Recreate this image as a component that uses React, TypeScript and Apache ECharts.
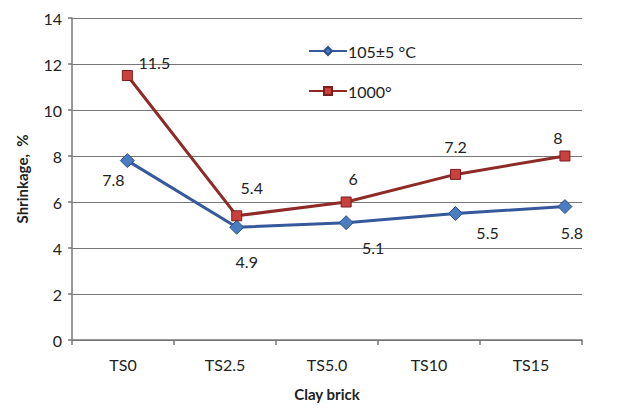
import React, { useEffect, useRef } from "react";
import * as echarts from "echarts";

const categories = ["TS0", "TS2.5", "TS5.0", "TS10", "TS15"];
const dried = [7.8, 4.9, 5.1, 5.5, 5.8];
const fired = [11.5, 5.4, 6, 7.2, 8];
const driedLabelOffsets = [[-14, 19], [10, 34], [27, 25], [32, 19], [7, 26]];
const firedLabelOffsets = [[27, -13], [15, -28], [7, -24], [0, -28], [-7, -19]];
const yTicks = { min: 0, max: 14, interval: 2 };

const FONT = "Lato, 'Open Sans', 'Liberation Sans', sans-serif";

export default function App() {
  const ref = useRef<HTMLDivElement>(null);
  useEffect(() => {
    const chart = echarts.init(ref.current!, null, { renderer: "svg" });
    const mk = (vals: number[], offs: number[][]) =>
      vals.map((v, i) => ({
        value: [i, v],
        label: { show: true, position: "inside", offset: offs[i], formatter: String(v) },
      }));
    chart.setOption({
      animation: false,
      backgroundColor: "#fff",
      textStyle: { fontFamily: FONT },
      grid: { left: 72, right: 39, top: 18, bottom: 72 },
      legend: {
        orient: "vertical",
        left: 303,
        top: 38,
        itemGap: 24,
        itemWidth: 38,
        itemHeight: 10,
        textStyle: { fontSize: 16, color: "#222", fontFamily: FONT, padding: [0, 0, 0, -4] },
        data: ["105±5 °C", "1000°"],
      },
      xAxis: [
        {
          type: "category",
          data: categories,
          boundaryGap: true,
          name: "Clay brick",
          nameLocation: "middle",
          nameGap: 46,
          nameTextStyle: { fontSize: 15, fontWeight: "bold", color: "#222", fontFamily: FONT },
          axisLine: { lineStyle: { color: "#777", width: 1.5 } },
          axisTick: { show: true, length: 5, lineStyle: { color: "#777", width: 1.5 } },
          axisLabel: { fontSize: 16, color: "#222", margin: 16, fontFamily: FONT },
          splitLine: { show: false },
        },
        {
          type: "value",
          min: -0.506,
          max: 4.156,
          show: false,
          position: "bottom",
          splitLine: { show: false },
        },
      ],
      yAxis: {
        type: "value",
        min: yTicks.min,
        max: yTicks.max,
        interval: yTicks.interval,
        name: "Shrinkage,  %",
        nameLocation: "middle",
        nameGap: 43,
        nameTextStyle: { fontSize: 15, fontWeight: "bold", color: "#222", fontFamily: FONT },
        axisLine: { show: true, onZero: false, lineStyle: { color: "#777", width: 1.5 } },
        axisTick: { show: true, length: 4, lineStyle: { color: "#777", width: 1.5 } },
        axisLabel: { fontSize: 16, color: "#222", margin: 10, fontFamily: FONT },
        splitLine: { show: true, lineStyle: { color: "#777", width: 1.2 } },
      },
      series: [
        {
          name: "105±5 °C",
          type: "line",
          xAxisIndex: 1,
          data: mk(dried, driedLabelOffsets),
          symbol: "diamond",
          symbolSize: 14,
          itemStyle: { color: "#4A7CC0", borderColor: "#2E4F86", borderWidth: 1 },
          lineStyle: { color: "#35599A", width: 3 },
          label: { fontSize: 16, color: "#222", fontFamily: FONT },
          z: 3,
        },
        {
          name: "1000°",
          type: "line",
          xAxisIndex: 1,
          data: mk(fired, firedLabelOffsets),
          symbol: "rect",
          symbolSize: 10,
          itemStyle: { color: "#C9403D", borderColor: "#7A1E1E", borderWidth: 1 },
          lineStyle: { color: "#8E2A28", width: 3 },
          label: { fontSize: 16, color: "#222", fontFamily: FONT },
          z: 4,
        },
      ],
    });
    return () => chart.dispose();
  }, []);
  return <div ref={ref} style={{ width: 621, height: 412, position: "absolute", left: 0, top: 0 }} />;
}
